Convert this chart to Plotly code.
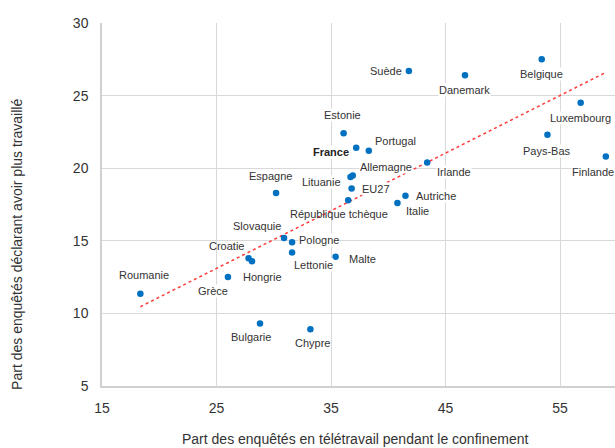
import numpy as np
import plotly.graph_objects as go

countries = ["Suède", "Danemark", "Belgique", "Luxembourg", "Pays-Bas", "Finlande",
             "Estonie", "France", "Portugal", "Allemagne", "Lituanie", "EU27",
             "Irlande", "Autriche", "Italie", "République tchèque", "Malte", "Chypre",
             "Bulgarie", "Slovaquie", "Pologne", "Lettonie", "Croatie", "Hongrie",
             "Grèce", "Roumanie", "Espagne"]
teletravail = [41.8, 46.7, 53.4, 56.8, 53.9, 59.0,
               36.1, 37.2, 38.3, 36.9, 36.7, 36.8,
               43.4, 41.5, 40.8, 36.5, 35.4, 33.2,
               28.8, 30.9, 31.6, 31.6, 27.8, 28.1,
               26.0, 18.35, 30.2]
plus_travaille = [26.7, 26.4, 27.5, 24.5, 22.3, 20.8,
                  22.4, 21.4, 21.2, 19.5, 19.4, 18.6,
                  20.4, 18.1, 17.6, 17.8, 13.9, 8.9,
                  9.3, 15.2, 14.9, 14.2, 13.8, 13.6,
                  12.5, 11.35, 18.3]

# label placement (style): (xanchor, xshift px, yshift px)
label_pos = {
    "Suède": ("right", -6, 0), "Danemark": ("center", 0, -15),
    "Belgique": ("center", 0, -15), "Luxembourg": ("center", 0, -15),
    "Pays-Bas": ("center", 0, -16), "Finlande": ("center", -13, -15),
    "Estonie": ("center", -1, 18), "France": ("right", -6, -4),
    "Portugal": ("left", 5, 10), "Allemagne": ("left", 6, 8),
    "Lituanie": ("right", -8, -5), "EU27": ("left", 9, 0),
    "Irlande": ("left", 9, -10), "Autriche": ("left", 10, 0),
    "Italie": ("left", 8, -8), "République tchèque": ("center", -9, -14),
    "Malte": ("left", 12, -2), "Chypre": ("center", 2, -13.5),
    "Bulgarie": ("center", -9, -13.5), "Slovaquie": ("right", -2, 12),
    "Pologne": ("left", 6, 2.5), "Lettonie": ("left", 1, -12.5),
    "Croatie": ("right", -3.5, 12.5), "Hongrie": ("left", -10.5, -16),
    "Grèce": ("center", -15, -13.5), "Roumanie": ("center", 4, 19),
    "Espagne": ("center", -6, 17),
}
no_bg = {"République tchèque", "Slovaquie", "Croatie"}

font_family = "Liberation Sans, Arial, sans-serif"

fig = go.Figure()

# trendline (linear fit on countries)
xs = np.array([x for c, x in zip(countries, teletravail) if c != "EU27"])
ys = np.array([y for c, y in zip(countries, plus_travaille) if c != "EU27"])
a, b = np.polyfit(xs, ys, 1)
xl = np.array([xs.min(), xs.max()])
fig.add_trace(go.Scatter(x=xl, y=a * xl + b, mode="lines",
                         line=dict(color="#FF3B3B", width=1.5, dash="dot"),
                         hoverinfo="skip", showlegend=False))

fig.add_trace(go.Scatter(x=teletravail, y=plus_travaille, mode="markers",
                         marker=dict(color="#0070C0", size=6.5),
                         text=countries, showlegend=False))

annotations = []
for c, x, y in zip(countries, teletravail, plus_travaille):
    xa, xsft, ysft = label_pos[c]
    annotations.append(dict(
        x=x, y=y, xref="x", yref="y", text=("<b>%s</b>" % c) if c == "France" else c,
        showarrow=False, xanchor=xa, yanchor="middle", xshift=xsft, yshift=ysft,
        font=dict(family=font_family, size=11, color="#333333" if c != "France" else "#222222"),
        bgcolor=None if c in no_bg else "white", borderpad=0,
    ))

annotations.append(dict(
    text="Part des enquêtés en télétravail pendant le confinement",
    xref="paper", yref="paper", x=0.4936, y=-0.147, xanchor="center", yanchor="middle",
    showarrow=False, font=dict(family=font_family, size=14, color="#333333")))
annotations.append(dict(
    text="Part des enquêtés déclarant avoir plus travaillé",
    xref="paper", yref="paper", x=-0.1648, y=0.39, xanchor="center", yanchor="middle",
    textangle=-90, showarrow=False, font=dict(family=font_family, size=14, color="#333333")))

fig.update_layout(
    width=615, height=448,
    margin=dict(l=102, r=0, t=23, b=62),
    paper_bgcolor="white", plot_bgcolor="white",
    annotations=annotations,
    font=dict(family=font_family, size=14, color="#333333"),
)
fig.update_xaxes(range=[15, 59.8], tickvals=[15, 25, 35, 45, 55],
                 showgrid=True, gridcolor="#D9D9D9", gridwidth=1,
                 showline=True, linecolor="#D0D0D0", linewidth=1.5,
                 zeroline=False, ticks="outside", ticklen=8, tickcolor="rgba(0,0,0,0)",
                 tickfont=dict(family=font_family, size=14, color="#333333"))
fig.update_yaxes(range=[5, 30], tickvals=[5, 10, 15, 20, 25, 30],
                 showgrid=True, gridcolor="#D9D9D9", gridwidth=1,
                 showline=True, linecolor="#D0D0D0", linewidth=1.5,
                 zeroline=False, ticks="outside", ticklen=9, tickcolor="rgba(0,0,0,0)",
                 tickfont=dict(family=font_family, size=14, color="#333333"))

fig.write_html("out.html", config={"displayModeBar": False},
               post_script="document.body.style.margin='0';document.body.style.overflow='hidden';")
